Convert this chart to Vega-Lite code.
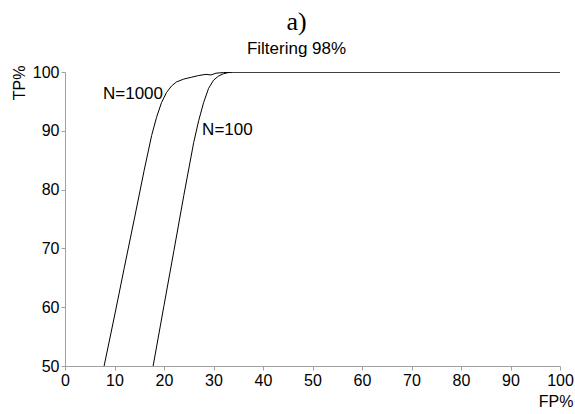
{
  "$schema": "https://vega.github.io/schema/vega-lite/v6.json",
  "width": 495,
  "height": 294,
  "autosize": "none",
  "padding": {"left": 65, "top": 72, "right": 15, "bottom": 48},
  "background": "white",
  "config": {
    "view": {"stroke": null},
    "font": "Liberation Sans",
    "axis": {
      "grid": false,
      "domainColor": "#a0a0a0",
      "tickColor": "#a0a0a0",
      "tickSize": 4,
      "labelColor": "black",
      "labelFontSize": 16,
      "labelFont": "Liberation Sans",
      "labelFlush": false,
      "titleFont": "Liberation Sans",
      "titleFontSize": 16,
      "titleFontWeight": "normal",
      "titleColor": "black"
    }
  },
  "title": {
    "text": "a)",
    "subtitle": "Filtering 98%",
    "font": "Liberation Serif",
    "fontSize": 26,
    "fontWeight": "normal",
    "color": "black",
    "subtitleFont": "Liberation Sans",
    "subtitleFontSize": 17,
    "subtitleColor": "black",
    "subtitlePadding": 6,
    "offset": 7,
    "dx": -16,
    "anchor": "middle"
  },
  "datasets": {
    "curves": [
      {"fp": 7.9, "tp": 50, "n": "N=1000"},
      {"fp": 10, "tp": 58.5, "n": "N=1000"},
      {"fp": 12, "tp": 66.8, "n": "N=1000"},
      {"fp": 14, "tp": 75, "n": "N=1000"},
      {"fp": 16, "tp": 83.3, "n": "N=1000"},
      {"fp": 17.5, "tp": 89.2, "n": "N=1000"},
      {"fp": 18.5, "tp": 92.3, "n": "N=1000"},
      {"fp": 19.5, "tp": 94.8, "n": "N=1000"},
      {"fp": 20.5, "tp": 96.5, "n": "N=1000"},
      {"fp": 21.5, "tp": 97.6, "n": "N=1000"},
      {"fp": 22.5, "tp": 98.3, "n": "N=1000"},
      {"fp": 24, "tp": 98.8, "n": "N=1000"},
      {"fp": 25.5, "tp": 99.1, "n": "N=1000"},
      {"fp": 27, "tp": 99.4, "n": "N=1000"},
      {"fp": 28.5, "tp": 99.6, "n": "N=1000"},
      {"fp": 29.5, "tp": 99.5, "n": "N=1000"},
      {"fp": 30.5, "tp": 99.8, "n": "N=1000"},
      {"fp": 32, "tp": 99.9, "n": "N=1000"},
      {"fp": 34, "tp": 100, "n": "N=1000"},
      {"fp": 100, "tp": 100, "n": "N=1000"},
      {"fp": 17.8, "tp": 50, "n": "N=100"},
      {"fp": 20, "tp": 60.3, "n": "N=100"},
      {"fp": 22, "tp": 69.6, "n": "N=100"},
      {"fp": 24, "tp": 79, "n": "N=100"},
      {"fp": 26, "tp": 88, "n": "N=100"},
      {"fp": 27, "tp": 91.7, "n": "N=100"},
      {"fp": 28, "tp": 94.8, "n": "N=100"},
      {"fp": 29, "tp": 97.2, "n": "N=100"},
      {"fp": 30, "tp": 98.6, "n": "N=100"},
      {"fp": 31, "tp": 99.3, "n": "N=100"},
      {"fp": 32, "tp": 99.7, "n": "N=100"},
      {"fp": 33, "tp": 99.9, "n": "N=100"},
      {"fp": 34, "tp": 100, "n": "N=100"},
      {"fp": 100, "tp": 100, "n": "N=100"}
    ],
    "labels": [
      {"fp": 19.8, "tp": 96.2, "label": "N=1000", "side": "left"},
      {"fp": 27.7, "tp": 90.2, "label": "N=100", "side": "right"}
    ]
  },
  "layer": [
    {
      "data": {"name": "curves"},
      "mark": {"type": "line", "color": "black", "strokeWidth": 1, "clip": true},
      "encoding": {
        "x": {
          "field": "fp", "type": "quantitative",
          "scale": {"domain": [0, 100], "nice": false},
          "axis": {"values": [0,10,20,30,40,50,60,70,80,90,100], "title": "FP%", "titleAnchor": "end", "titleAlign": "right", "titleX": 508, "titleY": 35, "titleBaseline": "middle", "labelPadding": 2}
        },
        "y": {
          "field": "tp", "type": "quantitative",
          "scale": {"domain": [50, 100], "nice": false, "zero": false},
          "axis": {"values": [50,60,70,80,90,100], "title": "TP%", "titleAngle": -90, "titleAlign": "right", "titleX": -46, "titleY": -7, "titleBaseline": "middle", "labelPadding": 2}
        },
        "detail": {"field": "n"}
      }
    },
    {
      "data": {"name": "labels"},
      "transform": [{"filter": "datum.side == 'left'"}],
      "mark": {"type": "text", "align": "right", "baseline": "middle", "fontSize": 17, "font": "Liberation Sans", "color": "black"},
      "encoding": {
        "x": {"field": "fp", "type": "quantitative"},
        "y": {"field": "tp", "type": "quantitative"},
        "text": {"field": "label"}
      }
    },
    {
      "data": {"name": "labels"},
      "transform": [{"filter": "datum.side == 'right'"}],
      "mark": {"type": "text", "align": "left", "baseline": "middle", "fontSize": 17, "font": "Liberation Sans", "color": "black"},
      "encoding": {
        "x": {"field": "fp", "type": "quantitative"},
        "y": {"field": "tp", "type": "quantitative"},
        "text": {"field": "label"}
      }
    }
  ]
}
